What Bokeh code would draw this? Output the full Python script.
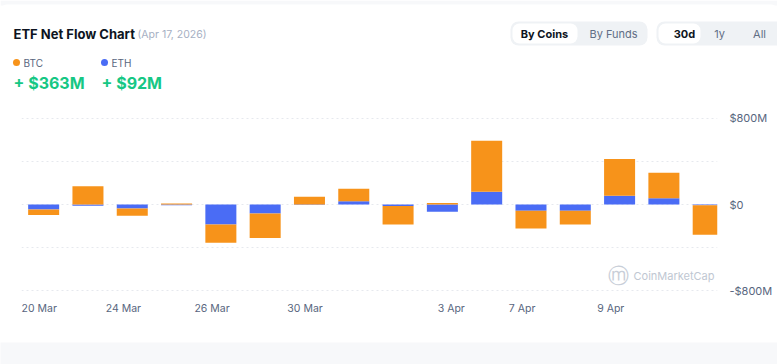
from bokeh.plotting import figure
from bokeh.layouts import column
from bokeh.models import FixedTicker, Label, BoxAnnotation, Range1d, ColumnDataSource
from bokeh.embed import file_html
from bokeh.resources import INLINE

# ---- data (USD millions) ----
btc = [-52, 169, -68, 10, -169, -227, 72, 114, -169, 15, 473, -163, -126, 341, 236, -274]
eth = [-46, -12, -37, -6, -184, -83, -4, 31, -15, -68, 117, -58, -58, 80, 58, -6]
tick_labels = ["20 Mar", "24 Mar", "26 Mar", "30 Mar", "3 Apr", "7 Apr", "9 Apr"]
tick_pos = [-0.1, 1.8, 3.8, 5.9, 9.2, 10.8, 12.8]
y_ticks = [-800, 0, 800]
y_tick_labels = ["-$800M", "$0", "$800M"]
grid_ticks = [-800, -400, 0, 400, 800]
btc_total = "+ $363M"
eth_total = "+ $92M"

FONT = "Inter"
ORANGE = "#f7931a"
BLUE = "#4a6cf5"
PAGE_BG = "#f7f8fa"
W = 777
HEAD_H = 100
CHART_H = 242
FOOT_H = 22

# ---------------- header (data units == pixels) ----------------
h = figure(width=W, height=HEAD_H, x_range=Range1d(0, W), y_range=Range1d(HEAD_H, 0),
           x_axis_location=None, y_axis_location=None, toolbar_location=None,
           output_backend="svg", min_border=0)
h.frame_align = False
h.outline_line_color = None
h.grid.grid_line_color = None
h.background_fill_color = "white"
h.border_fill_color = "white"

def label(fig, text, x, y, size, color, bold=False, align="left"):
    fig.add_layout(Label(x=x, y=y, text=text, text_font=FONT, text_font_size=size,
                         text_color=color, text_font_style="bold" if bold else "normal",
                         text_baseline="middle", text_align=align))

def box(fig, x0, x1, y0, y1, color, radius=0):
    fig.add_layout(BoxAnnotation(left=x0, right=x1, top=y0, bottom=y1,
                                 fill_color=color, fill_alpha=1, line_color=None,
                                 border_radius=radius))

box(h, 0, W, 0, 5, PAGE_BG)
box(h, 0, W, 4, 30, "white", 6)

label(h, "ETF Net Flow Chart", 13, 33, "13px", "#0d1421", bold=True)
label(h, "(Apr 17, 2026)", 137, 34, "10.5px", "#a6b0c3")
box(h, 12.5, 19.5, 58.5, 65.5, ORANGE, 4)
label(h, "BTC", 23, 62, "10px", "#58667e")
box(h, 100.5, 107.5, 58.5, 65.5, BLUE, 4)
label(h, "ETH", 111, 62, "10px", "#58667e")
label(h, btc_total, 13, 82, "16px", "#16c784", bold=True)
label(h, eth_total, 101, 82, "16px", "#16c784", bold=True)

box(h, 510, 647, 21, 45, "#eff2f5", 8)
box(h, 512, 577, 23, 43, "white", 7)
label(h, "By Coins", 544, 33, "11px", "#0d1421", bold=True, align="center")
label(h, "By Funds", 613, 33, "11px", "#616e85", align="center")
box(h, 656, 790, 21, 45, "#eff2f5", 8)
box(h, 658, 700, 23, 43, "white", 7)
label(h, "30d", 684, 33, "11px", "#0d1421", bold=True, align="center")
label(h, "1y", 719, 33, "11px", "#616e85", align="center")
label(h, "All", 759, 33, "11px", "#616e85", align="center")

# ---------------- chart ----------------
idx = list(range(len(btc)))
eth_bottom = [0] * len(eth)
eth_top = list(eth)
btc_bottom = [e if b * e > 0 else 0 for b, e in zip(btc, eth)]
btc_top = [bb + b for bb, b in zip(btc_bottom, btc)]
src = ColumnDataSource(dict(x=idx, eb=eth_bottom, et=eth_top, bb=btc_bottom, bt=btc_top))

p = figure(width=W, height=CHART_H, x_range=Range1d(-0.5, 15.21), y_range=Range1d(-870, 870),
           y_axis_location="right", toolbar_location=None, output_backend="svg",
           min_border_left=21, min_border_right=60, min_border_top=10, min_border_bottom=44)
p.frame_align = False
p.outline_line_color = None
p.background_fill_color = "white"
p.border_fill_color = "white"

p.vbar(x="x", bottom="eb", top="et", width=0.7, color=BLUE, line_color=None, source=src)
p.vbar(x="x", bottom="bb", top="bt", width=0.7, color=ORANGE, line_color=None, source=src)

p.xgrid.grid_line_color = None
p.ygrid.ticker = FixedTicker(ticks=grid_ticks)
p.ygrid.grid_line_color = "#e6e9ee"
p.ygrid.grid_line_dash = "2 3"

xa = p.xaxis[0]
xa.ticker = FixedTicker(ticks=tick_pos)
xa.major_label_overrides = {t: l for t, l in zip(tick_pos, tick_labels)}
ya = p.yaxis[0]
ya.ticker = FixedTicker(ticks=y_ticks)
ya.major_label_overrides = {t: l for t, l in zip(y_ticks, y_tick_labels)}
for ax in (xa, ya):
    ax.axis_line_color = None
    ax.major_tick_line_color = None
    ax.minor_tick_line_color = None
    ax.major_tick_out = 0
    ax.major_tick_in = 0
    ax.major_label_text_font = FONT
    ax.major_label_text_color = "#58667e"
xa.major_label_text_font_size = "10.5px"
ya.major_label_text_font_size = "11px"
xa.major_label_standoff = 3
ya.major_label_standoff = 12

# watermark (screen units relative to frame: left=21, bottom=198 in chart canvas)
p.add_layout(Label(x=618 - 21, y=298 - 275, x_units="screen", y_units="screen", text="\u24dc",
                   text_font=FONT, text_font_size="21px", text_color="#c8ced8",
                   text_baseline="middle", text_align="center"))
p.add_layout(Label(x=633 - 21, y=298 - 275, x_units="screen", y_units="screen", text="CoinMarketCap",
                   text_font=FONT, text_font_size="11px", text_color="#c0c7d2",
                   text_baseline="middle", text_align="left"))

# ---------------- footer band ----------------
f = figure(width=W, height=FOOT_H, x_range=Range1d(0, 1), y_range=Range1d(0, 1),
           x_axis_location=None, y_axis_location=None, toolbar_location=None,
           output_backend="svg", min_border=0)
f.frame_align = False
f.outline_line_color = None
f.grid.grid_line_color = None
f.background_fill_color = PAGE_BG
f.border_fill_color = PAGE_BG

layout = column(h, p, f, spacing=0)
open("out.html", "w").write(file_html(layout, INLINE))
